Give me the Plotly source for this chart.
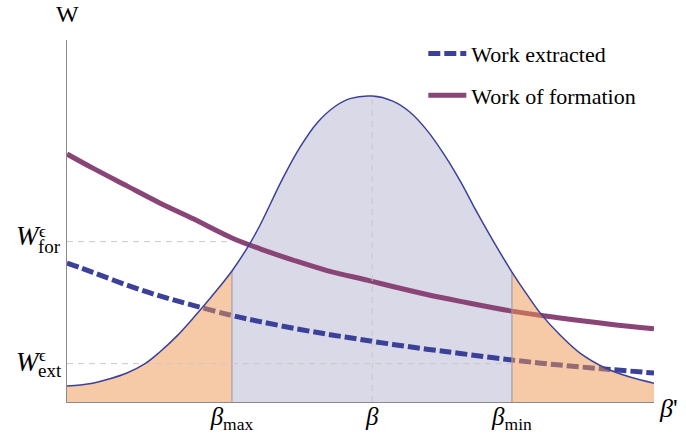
import plotly.graph_objects as go

# ---- data (x: β', y: W, arbitrary units) ----
bell_x = [0.0, 0.22, 0.44, 0.73, 1.02, 1.33, 1.58, 1.87, 2.15, 2.47, 2.81, 3.12, 3.29,
          3.68, 3.97, 4.26, 4.57, 4.82, 5.20, 5.55, 5.84, 6.13, 6.44, 6.70, 6.98,
          7.26, 7.58, 7.84, 8.09, 8.40, 8.74, 9.17, 9.59, 10.0]
bell_y = [0.44, 0.47, 0.52, 0.64, 0.80, 1.06, 1.38, 1.82, 2.32, 2.93, 3.62, 4.39, 4.89,
          6.19, 7.04, 7.71, 8.17, 8.38, 8.45, 8.31, 8.01, 7.51, 6.80, 6.10, 5.25,
          4.45, 3.59, 2.96, 2.40, 1.85, 1.35, 0.94, 0.69, 0.52]

form_x = [0.0, 0.44, 1.02, 1.58, 2.15, 2.81, 3.29, 3.85, 4.43, 5.13, 5.55, 6.13,
          6.70, 7.58, 8.40, 9.25, 10.0]
form_y = [6.85, 6.46, 5.97, 5.50, 5.06, 4.53, 4.23, 3.92, 3.63, 3.36, 3.19, 2.97,
          2.78, 2.51, 2.32, 2.15, 2.02]

ext_x = [0.0, 0.44, 1.02, 1.58, 2.15, 2.81, 3.29, 3.92, 4.48, 4.99, 5.55, 6.13,
         6.70, 7.58, 8.40, 9.25, 10.0]
ext_y = [3.84, 3.58, 3.23, 2.93, 2.67, 2.39, 2.22, 2.02, 1.86, 1.73, 1.59, 1.46,
         1.34, 1.16, 1.02, 0.90, 0.80]

beta_max, beta_0, beta_min = 2.81, 5.20, 7.58
W_for, W_ext = 4.43, 1.06
x_tick_vals = [beta_max, beta_0, beta_min]
x_tick_text = ["<i>β</i><sub>max</sub>", "<i>β</i>", "<i>β</i><sub>min</sub>"]

# ---- styles ----
SERIF = "Liberation Serif, Times New Roman, serif"
BLUE = "#3b4199"
PURPLE = "#8a4577"
MIDFILL = "rgb(217,217,232)"
ORANGE = "rgba(240,150,80,0.5)"
EDGE = "rgba(160,150,165,0.9)"
GRID = "rgba(200,200,200,1)"
SMOOTH = 1.0

i_max = bell_x.index(beta_max)
i_min = bell_x.index(beta_min)
i_0 = bell_x.index(beta_0)

fig = go.Figure()

# middle fill (under the lines)
fig.add_trace(go.Scatter(x=bell_x[i_max:i_min + 1], y=bell_y[i_max:i_min + 1],
                         mode="lines", line=dict(width=0, shape="spline", smoothing=SMOOTH),
                         fill="tozeroy", fillcolor=MIDFILL,
                         showlegend=False, hoverinfo="skip"))

# work curves
fig.add_trace(go.Scatter(x=ext_x, y=ext_y, mode="lines", name="Work extracted",
                         line=dict(color=BLUE, width=5, dash="12px,4px", shape="spline",
                                   smoothing=SMOOTH),
                         legendgroup="a"))
fig.add_trace(go.Scatter(x=form_x, y=form_y, mode="lines", name="Work of formation",
                         line=dict(color=PURPLE, width=5, shape="spline", smoothing=SMOOTH),
                         legendgroup="b"))

# translucent orange tails over the lines
fig.add_trace(go.Scatter(x=bell_x[:i_max + 1], y=bell_y[:i_max + 1],
                         mode="lines", line=dict(width=0, shape="spline", smoothing=SMOOTH),
                         fill="tozeroy", fillcolor=ORANGE,
                         showlegend=False, hoverinfo="skip"))
fig.add_trace(go.Scatter(x=bell_x[i_min:], y=bell_y[i_min:],
                         mode="lines", line=dict(width=0, shape="spline", smoothing=SMOOTH),
                         fill="tozeroy", fillcolor=ORANGE,
                         showlegend=False, hoverinfo="skip"))

# boundaries at beta_max / beta_min
for i in (i_max, i_min):
    fig.add_trace(go.Scatter(x=[bell_x[i], bell_x[i]], y=[0, bell_y[i]], mode="lines",
                             line=dict(color=EDGE, width=1.2),
                             showlegend=False, hoverinfo="skip"))

# dashed guide lines
fig.add_trace(go.Scatter(x=[beta_0, beta_0], y=[0, bell_y[i_0]], mode="lines",
                         line=dict(color=GRID, width=1, dash="6px,5px"),
                         showlegend=False, hoverinfo="skip"))
fig.add_trace(go.Scatter(x=[0, beta_max], y=[W_for, W_for], mode="lines",
                         line=dict(color=GRID, width=1, dash="6px,5px"),
                         showlegend=False, hoverinfo="skip"))
fig.add_trace(go.Scatter(x=[0, beta_min], y=[W_ext, W_ext], mode="lines",
                         line=dict(color=GRID, width=1, dash="6px,5px"),
                         showlegend=False, hoverinfo="skip"))

# bell curve outline
fig.add_trace(go.Scatter(x=bell_x, y=bell_y, mode="lines",
                         line=dict(color=BLUE, width=1.5, shape="spline", smoothing=SMOOTH),
                         showlegend=False, hoverinfo="skip"))

annotations = [
    dict(text="W", x=0, y=1, xref="paper", yref="paper", xanchor="center",
         yanchor="middle", yshift=26, showarrow=False,
         font=dict(family=SERIF, size=24, color="black")),
    dict(text="<i>β</i>'", x=1, y=0, xref="paper", yref="paper", xanchor="left",
         yanchor="middle", xshift=3, yshift=-6, showarrow=False,
         font=dict(family=SERIF, size=26, color="black")),
]
for val, sub, dyW, dyE, dyS in ((W_for, "for", 6, 10, -5), (W_ext, "ext", 2, 8, -7)):
    annotations += [
        dict(text="<i>W</i>", x=0, y=val, xref="paper", yref="y", xanchor="right",
             yanchor="middle", xshift=-24, yshift=dyW, showarrow=False,
             font=dict(family=SERIF, size=27, color="black")),
        dict(text="ϵ", x=0, y=val, xref="paper", yref="y", xanchor="right",
             yanchor="middle", xshift=-19, yshift=dyE, showarrow=False,
             font=dict(family=SERIF, size=17, color="black")),
        dict(text=sub, x=0, y=val, xref="paper", yref="y", xanchor="left",
             yanchor="middle", xshift=-31, yshift=dyS, showarrow=False,
             font=dict(family=SERIF, size=19, color="black")),
    ]

fig.update_layout(
    width=686, height=443,
    margin=dict(l=67, r=32, t=40, b=41),
    paper_bgcolor="white", plot_bgcolor="white",
    font=dict(family=SERIF, color="black"),
    xaxis=dict(range=[0, 10], showgrid=False, zeroline=False, automargin=False,
               showline=True, linecolor="#8a8a8a", linewidth=1,
               tickmode="array", tickvals=x_tick_vals, ticktext=x_tick_text,
               ticks="", ticklabelstandoff=-8,
               tickfont=dict(family=SERIF, size=25, color="black")),
    yaxis=dict(range=[0, 10], showgrid=False, zeroline=False, automargin=False,
               showline=True, linecolor="#8a8a8a", linewidth=1,
               showticklabels=False, ticks=""),
    legend=dict(x=0.607, y=1.02, xanchor="left", yanchor="top",
                bgcolor="rgba(0,0,0,0)", traceorder="grouped", tracegroupgap=10,
                itemwidth=38,
                font=dict(family=SERIF, size=22, color="black")),
    annotations=annotations,
    showlegend=True,
)

# remove the default page margin so the 686x443 figure fills the window exactly
fig.write_html("out.html", config={"displayModeBar": False},
               post_script="document.body.style.margin='0px';")
